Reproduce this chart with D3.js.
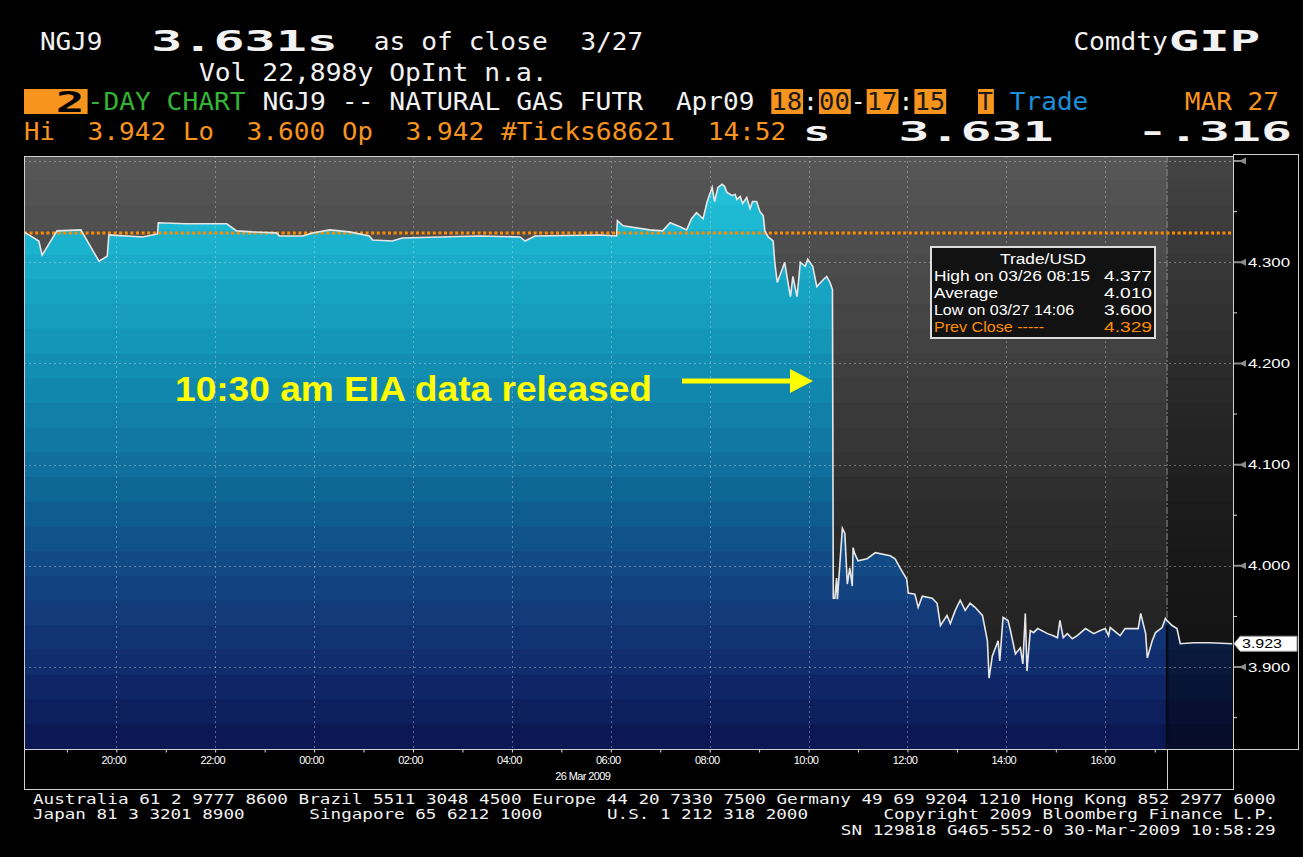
<!DOCTYPE html>
<html><head><meta charset="utf-8">
<script src="https://cdn.jsdelivr.net/npm/d3@7"></script>
<style>body{margin:0;background:#000}svg{display:block}</style>
</head><body><svg id="c" width="1303" height="857"></svg>
<script>
// ---------------- DATA ----------------
const times = [
"03/25 18:08","03/25 18:26","03/25 18:30","03/25 18:48","03/25 19:17","03/25 19:39","03/25 19:49","03/25 19:51",
"03/25 20:32","03/25 20:50","03/25 20:51","03/25 21:25","03/25 22:14","03/25 22:26","03/25 22:45","03/25 23:14",
"03/25 23:18","03/25 23:46","03/25 23:58","03/26 00:19","03/26 00:43","03/26 01:07","03/26 01:11","03/26 01:35",
"03/26 01:47","03/26 02:32","03/26 03:21","03/26 04:10","03/26 04:16","03/26 04:28","03/26 05:47","03/26 06:07",
"03/26 06:08","03/26 06:15","03/26 06:47","03/26 07:03","03/26 07:12","03/26 07:24","03/26 07:32","03/26 07:38",
"03/26 07:44","03/26 07:52","03/26 07:57","03/26 08:03","03/26 08:06","03/26 08:10","03/26 08:15","03/26 08:18",
"03/26 08:21","03/26 08:27","03/26 08:31","03/26 08:33","03/26 08:37","03/26 08:40","03/26 08:45","03/26 08:49",
"03/26 08:52","03/26 08:57","03/26 09:01","03/26 09:05","03/26 09:07","03/26 09:11","03/26 09:17","03/26 09:19",
"03/26 09:22","03/26 09:28","03/26 09:31","03/26 09:35","03/26 09:38","03/26 09:41","03/26 09:46","03/26 09:50",
"03/26 09:56","03/26 09:59","03/26 10:05","03/26 10:10","03/26 10:18","03/26 10:22","03/26 10:26","03/26 10:29",
"03/26 10:30","03/26 10:32","03/26 10:34","03/26 10:35","03/26 10:41","03/26 10:44","03/26 10:47","03/26 10:50",
"03/26 10:53","03/26 10:54","03/26 10:56","03/26 11:00","03/26 11:11","03/26 11:21","03/26 11:39","03/26 11:45",
"03/26 11:51","03/26 11:59","03/26 12:01","03/26 12:09","03/26 12:13","03/26 12:18","03/26 12:30","03/26 12:36",
"03/26 12:40","03/26 12:48","03/26 12:52","03/26 12:58","03/26 13:04","03/26 13:10","03/26 13:16","03/26 13:22",
"03/26 13:31","03/26 13:37","03/26 13:39","03/26 13:43","03/26 13:50","03/26 13:52","03/26 13:56","03/26 14:02",
"03/26 14:05","03/26 14:11","03/26 14:17","03/26 14:20","03/26 14:23","03/26 14:25","03/26 14:29","03/26 14:33",
"03/26 14:38","03/26 14:50","03/26 14:57","03/26 15:02","03/26 15:05","03/26 15:09","03/26 15:14","03/26 15:20",
"03/26 15:26","03/26 15:36","03/26 15:46","03/26 15:54","03/26 16:00","03/26 16:04","03/26 16:06","03/26 16:18",
"03/26 16:24","03/26 16:30","03/26 16:40","03/26 16:43","03/26 16:49","03/26 16:51","03/26 16:57","03/26 17:01",
"03/26 17:09","03/26 17:13","03/26 17:15","03/26 17:21","03/26 17:27","03/26 17:31","03/26 17:47","03/26 18:07",
"03/26 18:34"];
const prices = [
4.330,4.321,4.307,4.331,4.332,4.301,4.306,4.327,
4.325,4.328,4.339,4.338,4.338,4.331,4.330,4.329,
4.326,4.326,4.329,4.332,4.330,4.326,4.322,4.321,
4.324,4.325,4.326,4.325,4.321,4.326,4.327,4.326,
4.341,4.336,4.332,4.331,4.339,4.335,4.332,4.343,
4.349,4.343,4.360,4.374,4.360,4.374,4.377,4.375,
4.369,4.366,4.367,4.362,4.365,4.358,4.364,4.353,
4.360,4.360,4.350,4.346,4.331,4.325,4.321,4.300,
4.280,4.293,4.300,4.280,4.266,4.286,4.266,4.300,
4.296,4.303,4.296,4.276,4.283,4.286,4.280,4.273,
3.968,3.968,3.988,3.967,4.037,4.032,3.982,3.998,
3.980,4.018,4.012,4.005,4.007,4.013,4.010,4.007,
3.998,3.987,3.973,3.972,3.959,3.970,3.968,3.963,
3.941,3.951,3.943,3.956,3.966,3.956,3.963,3.959,
3.951,3.926,3.889,3.911,3.926,3.906,3.949,3.946,
3.936,3.913,3.919,3.903,3.953,3.896,3.936,3.934,
3.938,3.933,3.931,3.929,3.946,3.929,3.933,3.928,
3.931,3.938,3.933,3.936,3.938,3.931,3.939,3.931,
3.938,3.938,3.938,3.953,3.933,3.909,3.926,3.934,
3.939,3.948,3.946,3.941,3.938,3.923,3.924,3.924,
3.923];
const yTicks = [3.9, 4.0, 4.1, 4.2, 4.3, 4.4];
const yMinorTicks = [3.85, 3.95, 4.05, 4.15, 4.25, 4.35];
const prevClose = 4.329;
const lastPrice = 3.923;
const sessionEnd = "03/26 17:15";
const domainStart = "03/25 18:08", domainEnd = "03/26 18:35";
const statLabels = ["High on 03/26 08:15", "Average", "Low on 03/27 14:06", "Prev Close -----"];
const statValues = ["4.377", "4.010", "3.600", "4.329"];
const footerLine1 = "Australia 61 2 9777 8600 Brazil 5511 3048 4500 Europe 44 20 7330 7500 Germany 49 69 9204 1210 Hong Kong 852 2977 6000";

// ---------------- SETUP ----------------
const parse = s => d3.timeParse("%Y/%m/%d %H:%M")("2009/" + s);
const pts = times.map((t, i) => ({t: parse(t), v: prices[i]}));
const svg = d3.select("#c");
const W = 1303, H = 857;
const P = {l: 24, r: 1233, t: 156, b: 749};
svg.append("rect").attr("width", W).attr("height", H).attr("fill", "#000");

const x = d3.scaleTime().domain([parse(domainStart), parse(domainEnd)]).range([P.l, P.r]);
const y = d3.scaleLinear().domain([3.819, 4.405]).range([P.b, P.t]);
const sx = x(parse(sessionEnd));

const defs = svg.append("defs");
const area = d3.area().x(d => x(d.t)).y0(P.b).y1(d => y(d.v));
const line = d3.line().x(d => x(d.t)).y(d => y(d.v));
defs.append("clipPath").attr("id", "areaClip").append("path").attr("d", area(pts));
defs.append("clipPath").attr("id", "plotClip").append("rect")
  .attr("x", P.l).attr("y", P.t).attr("width", P.r - P.l).attr("height", P.b - P.t);
const og = defs.append("linearGradient").attr("id", "postGrad").attr("x1", 0).attr("y1", 0).attr("x2", 0).attr("y2", 1);
og.append("stop").attr("offset", 0).attr("stop-color", "#000").attr("stop-opacity", 0.22);
og.append("stop").attr("offset", 1).attr("stop-color", "#000").attr("stop-opacity", 0.5);

// background bands
const grayC = d3.scaleLinear().domain([156, 300, 440, 520, 749])
  .range(["#575757", "#474747", "#363636", "#2b2b2b", "#1c1c1c"]);
const blueC = d3.scaleLinear().domain([156, 233, 330, 430, 500, 560, 620, 680, 749])
  .range(["#27c7de", "#1bb5cf", "#1599bb", "#107ba4", "#0f6393", "#114b85", "#133878", "#0f2868", "#0a1450"]);
const nb = 24, bh = (P.b - P.t) / nb;
const bands = d3.range(nb).map(i => P.t + i * bh);
const plotG = svg.append("g").attr("clip-path", "url(#plotClip)");
plotG.append("g").selectAll("rect").data(bands).join("rect")
  .attr("x", P.l).attr("y", d => d).attr("width", P.r - P.l).attr("height", bh + 0.6)
  .attr("fill", d => grayC(d + bh / 2));
plotG.append("g").attr("clip-path", "url(#areaClip)").selectAll("rect").data(bands).join("rect")
  .attr("x", P.l).attr("y", d => d).attr("width", P.r - P.l).attr("height", bh + 0.6)
  .attr("fill", d => blueC(d + bh / 2));
// post-session shading
plotG.append("rect").attr("x", sx).attr("y", P.t).attr("width", P.r - sx).attr("height", P.b - P.t)
  .attr("fill", "url(#postGrad)");

// grid
const gridHours = d3.timeHour.every(2).range(parse(domainStart), parse(sessionEnd));
plotG.append("g").selectAll("line").data(gridHours).join("line")
  .attr("x1", d => Math.round(x(d)) + 0.5).attr("x2", d => Math.round(x(d)) + 0.5)
  .attr("y1", P.t).attr("y2", P.b)
  .attr("stroke", "rgba(220,220,220,0.38)").attr("stroke-dasharray", "2,3");
plotG.append("g").selectAll("line").data(yTicks).join("line")
  .attr("x1", P.l).attr("x2", P.r)
  .attr("y1", d => Math.round(y(d)) + 0.5).attr("y2", d => Math.round(y(d)) + 0.5)
  .attr("stroke", "rgba(220,220,220,0.38)").attr("stroke-dasharray", "2,3");

// session end line
plotG.append("line").attr("x1", sx).attr("x2", sx).attr("y1", P.t).attr("y2", P.b)
  .attr("stroke", "#8a8a8a").attr("stroke-dasharray", "7,2,2,2");
plotG.append("line").attr("x1", sx).attr("x2", sx).attr("y1", y(prices[times.indexOf(sessionEnd)]) + 4).attr("y2", P.b)
  .attr("stroke", "#050a18").attr("stroke-width", 2.5);

// prev close
plotG.append("line").attr("x1", P.l).attr("x2", P.r).attr("y1", y(prevClose)).attr("y2", y(prevClose))
  .attr("stroke", "#ff8a00").attr("stroke-width", 3).attr("stroke-dasharray", "3,2.6");

// price line
plotG.append("path").attr("d", line(pts)).attr("fill", "none")
  .attr("stroke", "#e6e6e6").attr("stroke-width", 1.6).attr("stroke-linejoin", "miter");

// borders
const bc = "#cfcfcf";
svg.append("rect").attr("x", P.l + 0.5).attr("y", P.t + 0.5).attr("width", P.r - P.l).attr("height", P.b - P.t)
  .attr("fill", "none").attr("stroke", bc);
svg.append("rect").attr("x", P.l + 0.5).attr("y", P.b + 0.5).attr("width", P.r - P.l).attr("height", 40)
  .attr("fill", "none").attr("stroke", bc);
svg.append("rect").attr("x", P.r + 0.5).attr("y", P.t - 1.5).attr("width", 65).attr("height", P.b - P.t + 2)
  .attr("fill", "none").attr("stroke", bc);
svg.append("line").attr("x1", Math.round(sx) + 0.5).attr("x2", Math.round(sx) + 0.5).attr("y1", P.b).attr("y2", P.b + 40)
  .attr("stroke", bc);

// x axis
const xTicks = d3.timeHour.every(1).range(parse(domainStart), parse(sessionEnd));
const xAxis = d3.axisBottom(x).tickValues(xTicks).tickSize(3).tickPadding(4)
  .tickFormat(d => d.getHours() % 2 === 0 ? d3.timeFormat("%H:%M")(d) : "");
const xg = svg.append("g").attr("transform", `translate(0,${P.b + 0.5})`).call(xAxis);
xg.select(".domain").remove();
xg.selectAll(".tick line").attr("stroke", "#ddd");
xg.selectAll(".tick text").attr("fill", "#fff").attr("font-family", "Liberation Sans, Arial, sans-serif")
  .attr("font-size", 11).attr("letter-spacing", "-0.6").attr("dx", -3);
svg.append("text").attr("x", x(parse("03/26 06:00")) - 28).attr("y", 780).attr("text-anchor", "middle")
  .attr("fill", "#fff").attr("font-family", "Liberation Sans, Arial, sans-serif").attr("font-size", 11)
  .attr("letter-spacing", "-0.6").text("26 Mar 2009");

// right axis
const ra = svg.append("g");
ra.selectAll("path.tk").data(yTicks).join("path").attr("class", "tk")
  .attr("d", d => { const yy = y(d); return `M${P.r + 1},${yy - 1}L${P.r + 8},${yy - 1}L${P.r + 13},${yy - 3.5}L${P.r + 13},${yy + 3.5}L${P.r + 8},${yy + 1}L${P.r + 1},${yy + 1}Z`; })
  .attr("fill", "#8c8c8c");
ra.selectAll("line.mn").data(yMinorTicks).join("line").attr("class", "mn")
  .attr("x1", P.r).attr("x2", P.r + 4).attr("y1", d => y(d)).attr("y2", d => y(d)).attr("stroke", "#ddd");
ra.selectAll("text").data(yTicks.filter(d => d < 4.35)).join("text")
  .attr("x", P.r + 15).attr("y", d => y(d) + 4.5).attr("fill", "#fff")
  .attr("font-family", "Liberation Sans, Arial, sans-serif").attr("font-size", 12.5)
  .attr("textLength", 42).attr("lengthAdjust", "spacingAndGlyphs")
  .text(d => d3.format(".3f")(d));
// last price flag
const ly = y(lastPrice);
svg.append("path").attr("d", `M${P.r + 1},${ly}L${P.r + 7},${ly - 7.5}L${P.r + 64},${ly - 7.5}L${P.r + 64},${ly + 7.5}L${P.r + 7},${ly + 7.5}Z`)
  .attr("fill", "#fff").attr("stroke", "#999");
svg.append("text").attr("x", P.r + 9).attr("y", ly + 4.5).attr("fill", "#000")
  .attr("font-family", "Liberation Sans, Arial, sans-serif").attr("font-size", 12.5)
  .attr("textLength", 40).attr("lengthAdjust", "spacingAndGlyphs").text(d3.format(".3f")(lastPrice));

// legend box
const lg = svg.append("g");
lg.append("rect").attr("x", 931).attr("y", 247).attr("width", 224).attr("height", 91)
  .attr("fill", "#121212").attr("stroke", "#dcdcdc").attr("stroke-width", 2);
const lf = "Liberation Sans, Arial, sans-serif";
lg.append("text").attr("x", 1043).attr("y", 264).attr("text-anchor", "middle").attr("fill", "#fff")
  .attr("font-family", lf).attr("font-size", 14).attr("textLength", 86).attr("lengthAdjust", "spacingAndGlyphs").text("Trade/USD");
const labW = [156, 64, 140, 110];
statLabels.forEach((s, i) => {
  const c = i === 3 ? "#ff8c00" : "#fff";
  lg.append("text").attr("x", 934).attr("y", 281 + i * 17).attr("fill", c).attr("font-family", lf)
    .attr("font-size", 14).attr("textLength", labW[i]).attr("lengthAdjust", "spacingAndGlyphs").text(s);
  lg.append("text").attr("x", 1104).attr("y", 281 + i * 17).attr("fill", c).attr("font-family", lf)
    .attr("font-size", 14).attr("textLength", 48).attr("lengthAdjust", "spacingAndGlyphs").text(statValues[i]);
});

// annotation
svg.append("text").attr("x", 175).attr("y", 401).attr("fill", "#ffff00")
  .attr("font-family", "Liberation Sans, Arial, sans-serif").attr("font-weight", "bold").attr("font-size", 35)
  .attr("textLength", 477).attr("lengthAdjust", "spacingAndGlyphs").text("10:30 am EIA data released");
svg.append("line").attr("x1", 682).attr("x2", 795).attr("y1", 381).attr("y2", 381)
  .attr("stroke", "#ffff00").attr("stroke-width", 5);
svg.append("path").attr("d", "M790,369L813,381L790,393Z").attr("fill", "#ffff00");

// header
const cw = 15.9;
const col = c => 24 + c * cw;
const mono = "DejaVu Sans Mono, Liberation Mono, monospace";
function ht(c, base, str, color, opts = {}) {
  const n = opts.cols || str.length;
  svg.append("text").attr("x", col(c)).attr("y", base).attr("fill", color)
    .attr("font-family", mono).attr("font-size", opts.size || 24)
    .attr("font-weight", opts.bold ? "bold" : "normal")
    .attr("textLength", n * cw - (opts.trim || 1)).attr("lengthAdjust", "spacingAndGlyphs")
    .text(str);
}
function box(c, n, y0) {
  svg.append("rect").attr("x", col(c)).attr("y", y0).attr("width", n * cw).attr("height", 25).attr("fill", "#f7941d");
}
const WH = "#f2f2f2", OR = "#f7941d", GR = "#33b533", BL = "#1d8ed8";
// row 1
ht(1, 50, "NGJ9", WH);
ht(8, 51, "3.631s", WH, {cols: 12, bold: true, size: 29, trim: 4});
ht(22, 50, "as of close", WH);
ht(35, 50, "3/27", WH);
ht(66, 50, "Comdty", WH);
ht(72, 51, "GIP", WH, {cols: 6, bold: true, size: 29, trim: 4});
// row 2
ht(11, 81, "Vol 22,898y OpInt n.a.", WH);
// row 3
box(0, 4, 89);
ht(2, 112, "2", "#000", {cols: 2, bold: true, size: 29, trim: 3});
ht(4, 110, "-DAY CHART", GR);
ht(15, 110, "NGJ9 -- NATURAL GAS FUTR", WH);
ht(41, 110, "Apr09", WH);
box(47, 2, 89); box(50, 2, 89); box(53, 2, 89); box(56, 2, 89); box(60, 1, 89);
ht(47, 110, "18", "#1a1a1a"); ht(49, 110, ":", WH); ht(50, 110, "00", "#1a1a1a"); ht(52, 110, "-", WH);
ht(53, 110, "17", "#1a1a1a"); ht(55, 110, ":", WH); ht(56, 110, "15", "#1a1a1a");
ht(60, 110, "T", "#1a1a1a");
ht(62, 110, "Trade", BL);
ht(73, 110, "MAR 27", OR);
// row 4
ht(0, 140, "Hi", OR); ht(4, 140, "3.942", OR); ht(10, 140, "Lo", OR); ht(14, 140, "3.600", OR);
ht(20, 140, "Op", OR); ht(24, 140, "3.942", OR); ht(30, 140, "#Ticks68621", OR); ht(43, 140, "14:52", OR);
ht(49, 141, "s", WH, {cols: 2, bold: true, size: 27, trim: 4});
ht(55, 141, "3.631", WH, {cols: 10, bold: true, size: 27, trim: 4});
ht(70, 141, "-.316", WH, {cols: 10, bold: true, size: 27, trim: 4});

// footer
const fw = 10.63;
const fcol = c => 33 + c * fw;
function ft(c, base, str) {
  svg.append("text").attr("x", fcol(c)).attr("y", base).attr("fill", "#f2f2f2")
    .attr("font-family", mono).attr("font-size", 14)
    .attr("textLength", str.length * fw - 1).attr("lengthAdjust", "spacingAndGlyphs").text(str);
}
ft(0, 804, footerLine1);
ft(0, 819, "Japan 81 3 3201 8900");
ft(26, 819, "Singapore 65 6212 1000");
ft(54, 819, "U.S. 1 212 318 2000");
ft(80, 819, "Copyright 2009 Bloomberg Finance L.P.");
ft(76, 835, "SN 129818 G465-552-0 30-Mar-2009 10:58:29");
</script></body></html>
